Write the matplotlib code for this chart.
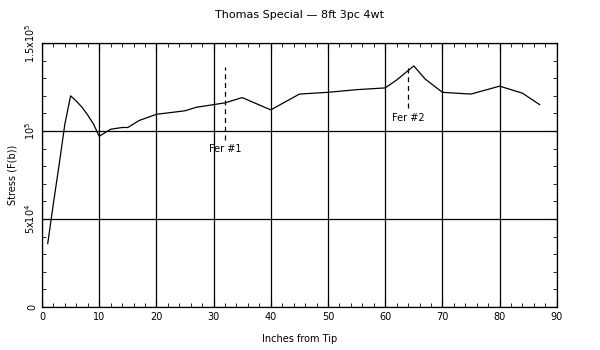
import matplotlib
matplotlib.use("Agg")
import matplotlib.pyplot as plt
from matplotlib.ticker import MultipleLocator

# stress along the rod
inches = [1, 2, 3, 4, 5, 6, 7, 8, 9, 10, 12, 14, 15, 17, 20, 25, 27, 30, 32,
          35, 40, 45, 50, 55, 60, 62, 65, 67, 70, 75, 80, 84, 87]
stress = [36000, 59000, 81000, 104000, 120000, 117000, 113500, 109000, 104000, 97000,
          101000, 102000, 102000, 106000, 109500, 111500, 113500, 115000, 116000,
          119000, 112000, 121000, 122000, 123500, 124500, 129000, 137000, 129500,
          122000, 121000, 125500, 121500, 115000]

# ferrule markers
fer_x = [32, 64]
fer_top = [136500, 136500]
fer_bottom = [95000, 113000]
fer_labels = ["Fer #1", "Fer #2"]

yticks = [0, 50000, 100000, 150000]
ytick_labels = ["0", r"5x10$^4$", r"10$^5$", r"1.5x10$^5$"]

fig = plt.figure(figsize=(6, 3.5), dpi=100)
ax = fig.add_axes([0.07, 0.123, 0.858, 0.754])

ax.plot(inches, stress, color="black", lw=0.9)

for x, top, bot, lab in zip(fer_x, fer_top, fer_bottom, fer_labels):
    ax.plot([x, x], [bot, top], color="black", lw=0.9, linestyle=(0, (4, 3)))
    ax.text(x, bot - 2500, lab, ha="center", va="top", fontsize=7)

ax.set_xlim(0, 90)
ax.set_ylim(0, 150000)
ax.xaxis.set_major_locator(MultipleLocator(10))
ax.xaxis.set_minor_locator(MultipleLocator(2))
ax.set_yticks(yticks)
ax.set_yticklabels(ytick_labels, rotation=90, va="center")
ax.yaxis.set_minor_locator(MultipleLocator(10000))
ax.tick_params(which="both", direction="in", top=True, right=True, labelsize=7, color="black")
ax.tick_params(which="major", length=5)
ax.tick_params(which="minor", length=3)
ax.grid(which="major", color="black", lw=0.9)
for s in ax.spines.values():
    s.set_linewidth(0.9)

ax.set_title("Thomas Special \u2014 8ft 3pc 4wt", fontsize=8, pad=18)
ax.set_xlabel("Inches from Tip", fontsize=7, labelpad=9)
ax.set_ylabel("Stress (F(b))", fontsize=7, labelpad=4)

fig.savefig("out.png", dpi=100)
